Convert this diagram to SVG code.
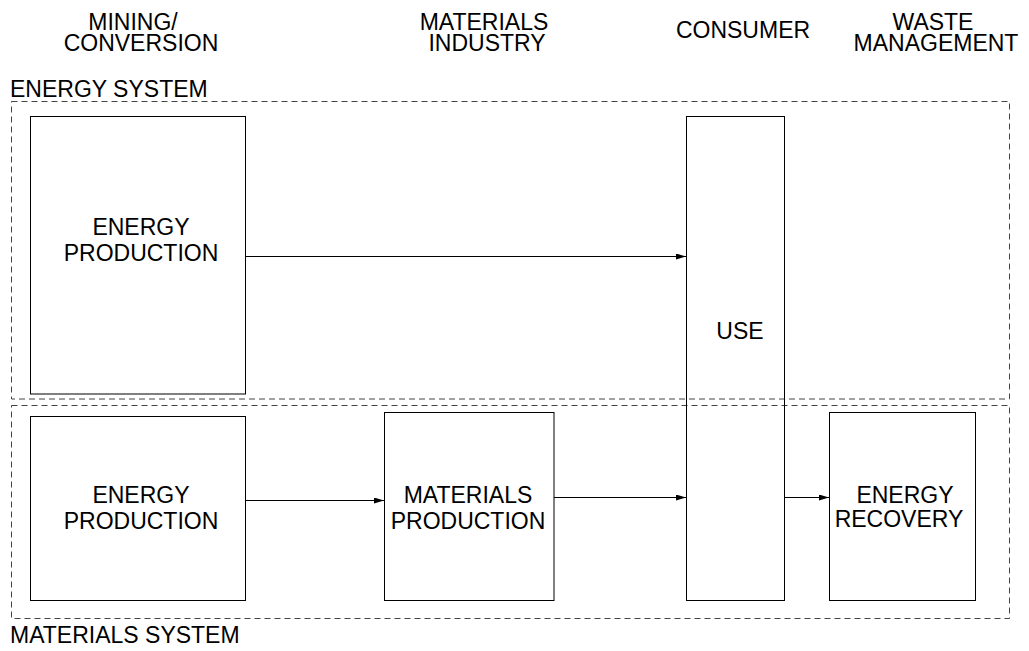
<svg xmlns="http://www.w3.org/2000/svg" width="1029" height="651" viewBox="0 0 1029 651">
<style>
text{font-family:"Liberation Sans",Arial,sans-serif;font-size:23px;fill:#000}
.c{text-anchor:middle}
.sys{fill:none;stroke:#444;stroke-width:1;stroke-dasharray:6,4}
.box{fill:none;stroke:#000;stroke-width:1}
.arr{stroke:#000;stroke-width:1;fill:none;marker-end:url(#ah)}
</style>
<defs>
<marker id="ah" markerWidth="10" markerHeight="6" refX="10" refY="3" orient="auto" markerUnits="userSpaceOnUse">
<path d="M0,0 L10,3 L0,6 Z" fill="#000"/>
</marker>
</defs>
<g id="headers">
<text class="c"><tspan x="133" y="30">MINING/</tspan><tspan x="141" y="51">CONVERSION</tspan></text>
<text class="c"><tspan x="484" y="30">MATERIALS</tspan><tspan x="487" y="51">INDUSTRY</tspan></text>
<text class="c" x="743" y="38">CONSUMER</text>
<text class="c"><tspan x="933" y="30">WASTE</tspan><tspan x="936" y="51">MANAGEMENT</tspan></text>
</g>
<g id="energy-system">
<rect class="sys" x="11.5" y="101.5" width="998" height="297.5"/>
<text x="10" y="97">ENERGY SYSTEM</text>
</g>
<g id="materials-system">
<rect class="sys" x="11.5" y="405.5" width="998" height="213"/>
<text x="10" y="643">MATERIALS SYSTEM</text>
</g>
<g id="energy-production-1">
<rect class="box" x="30.5" y="116.5" width="215" height="277.5"/>
<text class="c"><tspan x="141" y="235">ENERGY</tspan><tspan x="141" y="261">PRODUCTION</tspan></text>
</g>
<g id="energy-production-2">
<rect class="box" x="30.5" y="416.5" width="215" height="184"/>
<text class="c"><tspan x="141" y="503">ENERGY</tspan><tspan x="141" y="529">PRODUCTION</tspan></text>
</g>
<g id="materials-production">
<rect class="box" x="384.5" y="412.5" width="169.5" height="188"/>
<text class="c"><tspan x="468" y="503">MATERIALS</tspan><tspan x="468" y="529">PRODUCTION</tspan></text>
</g>
<g id="use">
<rect class="box" x="686.5" y="116.5" width="98" height="484"/>
<text class="c" x="740" y="339">USE</text>
</g>
<g id="energy-recovery">
<rect class="box" x="829.5" y="412.5" width="146" height="188"/>
<text class="c"><tspan x="905" y="503">ENERGY</tspan><tspan x="899" y="527">RECOVERY</tspan></text>
</g>
<g id="connectors">
<line class="arr" x1="246" y1="256.5" x2="686" y2="256.5"/>
<line class="arr" x1="246" y1="500.5" x2="384" y2="500.5"/>
<line class="arr" x1="554" y1="497.5" x2="686" y2="497.5"/>
<line class="arr" x1="785" y1="497.5" x2="829" y2="497.5"/>
</g>
</svg>
